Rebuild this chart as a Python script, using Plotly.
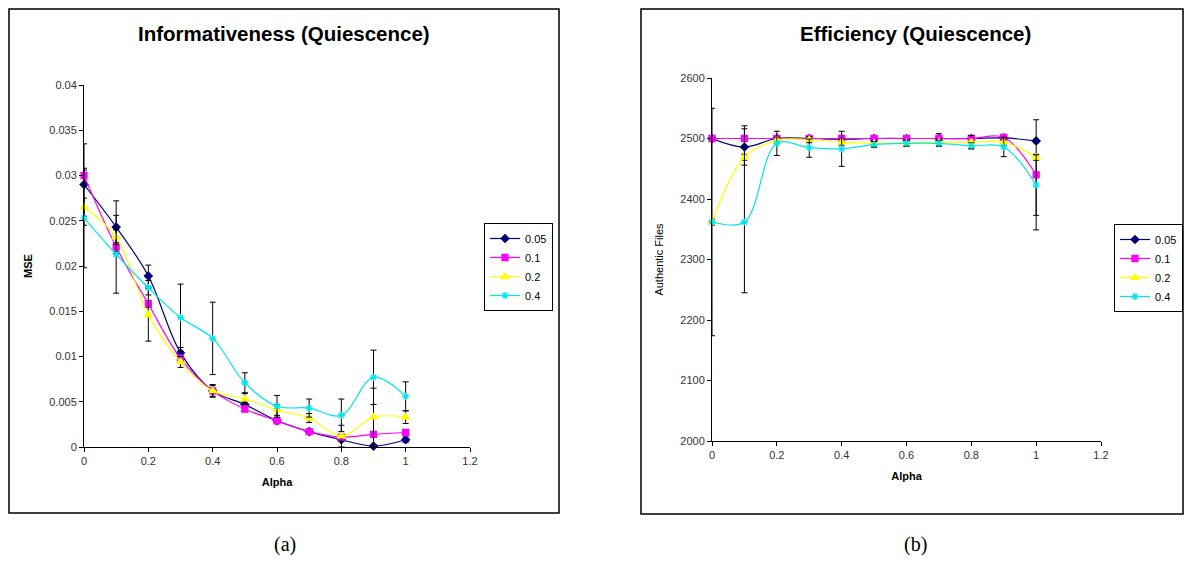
import plotly.graph_objects as go

# ---------------- data ----------------
alpha = [0.0, 0.1, 0.2, 0.3, 0.4, 0.5, 0.6, 0.7, 0.8, 0.9, 1.0]
series_names = ["0.05", "0.1", "0.2", "0.4"]

# (a) Informativeness (MSE)
mse_005 = [0.0290, 0.0243, 0.0189, 0.0104, 0.0062, 0.0047, 0.0029, 0.0017, 0.0008, 0.0001, 0.0008]
mse_01 = [0.0300, 0.0221, 0.0158, 0.0098, 0.0062, 0.0042, 0.0029, 0.0017, 0.0011, 0.0014, 0.0016]
mse_02 = [0.0265, 0.0232, 0.0146, 0.0094, 0.0062, 0.0053, 0.0041, 0.0032, 0.0012, 0.0033, 0.0033]
mse_04 = [0.0253, 0.0213, 0.0176, 0.0143, 0.0120, 0.0071, 0.0045, 0.0043, 0.0035, 0.0077, 0.0056]

mse_err_005 = [0.0045, 0.0029, 0.0012, 0.0006, 0.0007, 0.0004, 0.0003, 0.0002, 0.0002, 0.0001, 0.0003]
mse_err_01 = [0.0006, 0.0005, 0.0004, 0.0003, 0.0003, 0.0003, 0.0003, 0.0002, 0.0002, 0.0003, 0.0003]
mse_err_02 = [0.0010, 0.0008, 0.0029, 0.0006, 0.0006, 0.0006, 0.0006, 0.0005, 0.0012, 0.0032, 0.0007]
mse_err_04 = [0.0055, 0.0043, 0.0008, 0.0037, 0.0040, 0.0011, 0.0012, 0.0010, 0.0018, 0.0030, 0.0016]

# (b) Efficiency (Authentic Files)
files_005 = [2500, 2486, 2500, 2500, 2499, 2500, 2500, 2500, 2500, 2501, 2496]
files_01 = [2500, 2500, 2500, 2500, 2500, 2500, 2500, 2500, 2500, 2502, 2440]
files_02 = [2362, 2469, 2497, 2498, 2494, 2492, 2493, 2494, 2494, 2494, 2469]
files_04 = [2362, 2362, 2492, 2485, 2483, 2490, 2492, 2492, 2488, 2486, 2423]

files_err_005 = [3, 30, 3, 3, 3, 3, 3, 8, 3, 3, 3]
files_err_01 = [3, 3, 3, 3, 3, 3, 3, 3, 3, 3, 91]
files_err_02 = [5, 5, 5, 5, 5, 5, 5, 5, 11, 5, 5]
files_err_04_plus = [188, 159, 20, 14, 29, 5, 5, 5, 5, 16, 50]
files_err_04_minus = [188, 117, 20, 16, 29, 5, 5, 5, 5, 16, 50]

mse_ticks = [0, 0.005, 0.01, 0.015, 0.02, 0.025, 0.03, 0.035, 0.04]
mse_ticktext = ["0", "0.005", "0.01", "0.015", "0.02", "0.025", "0.03", "0.035", "0.04"]
files_ticks = [2000, 2100, 2200, 2300, 2400, 2500, 2600]
files_ticktext = ["2000", "2100", "2200", "2300", "2400", "2500", "2600"]
alpha_ticks = [0, 0.2, 0.4, 0.6, 0.8, 1.0, 1.2]
alpha_ticktext = ["0", "0.2", "0.4", "0.6", "0.8", "1", "1.2"]

# ---------------- styling ----------------
colors = ["#000080", "#FF00FF", "#FFFF00", "#00E5EE"]
symbols = ["diamond", "square", "triangle-up", "asterisk-open"]
msizes = [6, 6, 7, 6]
OFF = 8  # page body margin
W, H = 1192 - 2 * OFF, 563 - 2 * OFF
FONT = "Liberation Sans, Arial, sans-serif"


def px(v):
    return (v - OFF) / W


def py(v):
    return (H - (v - OFF)) / H


fig = go.Figure()

mse_series = [mse_005, mse_01, mse_02, mse_04]
mse_errs = [(mse_err_005, mse_err_005), (mse_err_01, mse_err_01),
            (mse_err_02, mse_err_02), (mse_err_04, mse_err_04)]
files_series = [files_005, files_01, files_02, files_04]
files_errs = [(files_err_005, files_err_005), (files_err_01, files_err_01),
              (files_err_02, files_err_02), (files_err_04_plus, files_err_04_minus)]

for i, name in enumerate(series_names):
    fig.add_trace(go.Scatter(
        x=alpha, y=mse_series[i], name=name, mode="lines+markers",
        line=dict(color=colors[i], width=1.2, shape="spline"),
        marker=dict(symbol=symbols[i], size=msizes[i], color=colors[i],
                    line=dict(color=colors[i], width=1.3)),
        error_y=dict(type="data", symmetric=False, array=mse_errs[i][0],
                     arrayminus=mse_errs[i][1], color="black", thickness=1, width=3),
        xaxis="x", yaxis="y", legend="legend", cliponaxis=False,
    ))

for i, name in enumerate(series_names):
    fig.add_trace(go.Scatter(
        x=alpha, y=files_series[i], name=name, mode="lines+markers",
        line=dict(color=colors[i], width=1.2, shape="spline"),
        marker=dict(symbol=symbols[i], size=msizes[i], color=colors[i],
                    line=dict(color=colors[i], width=1.3)),
        error_y=dict(type="data", symmetric=False, array=files_errs[i][0],
                     arrayminus=files_errs[i][1], color="black", thickness=1, width=3),
        xaxis="x2", yaxis="y2", legend="legend2", cliponaxis=False,
    ))

axis_common = dict(showgrid=False, zeroline=False, showline=True, linecolor="black",
                   linewidth=1, ticks="outside", ticklen=4, tickcolor="black",
                   automargin=False,
                   tickfont=dict(family=FONT, size=11, color="#333"))

fig.update_layout(
    width=W, height=H, autosize=False,
    margin=dict(l=0, r=0, t=0, b=0, pad=0),
    paper_bgcolor="white", plot_bgcolor="white",
    font=dict(family=FONT, color="black"),
    xaxis=dict(domain=[px(84), px(470)], range=[0, 1.2], tickvals=alpha_ticks,
               ticktext=alpha_ticktext, anchor="y",
               title=dict(text="<b>Alpha</b>", font=dict(size=11, family=FONT), standoff=12),
               **axis_common),
    yaxis=dict(domain=[py(447), py(85)], range=[0, 0.04], tickvals=mse_ticks,
               ticktext=mse_ticktext, anchor="x",
               title=dict(text="<b>MSE</b>", font=dict(size=11, family=FONT), standoff=14),
               **axis_common),
    xaxis2=dict(domain=[px(712), px(1101)], range=[0, 1.2], tickvals=alpha_ticks,
                ticktext=alpha_ticktext, anchor="y2",
                title=dict(text="<b>Alpha</b>", font=dict(size=11, family=FONT), standoff=12),
                **axis_common),
    yaxis2=dict(domain=[py(441), py(78)], range=[2000, 2600], tickvals=files_ticks,
                ticktext=files_ticktext, anchor="x2",
                title=dict(text="Authentic Files", font=dict(size=11, family=FONT), standoff=14),
                **axis_common),
    legend=dict(x=px(484), y=py(223), xanchor="left", yanchor="top",
                bordercolor="black", borderwidth=1, bgcolor="white",
                font=dict(size=11, family=FONT), itemwidth=30, tracegroupgap=0),
    legend2=dict(x=px(1114), y=py(224), xanchor="left", yanchor="top",
                 bordercolor="black", borderwidth=1, bgcolor="white",
                 font=dict(size=11, family=FONT), itemwidth=30, tracegroupgap=0),
    shapes=[
        dict(type="rect", xref="paper", yref="paper", x0=px(9), x1=px(559),
             y0=py(513), y1=py(9), line=dict(color="black", width=1.5)),
        dict(type="rect", xref="paper", yref="paper", x0=px(641), x1=px(1183),
             y0=py(514), y1=py(9), line=dict(color="black", width=1.5)),
    ],
    annotations=[
        dict(text="<b>Informativeness (Quiescence)</b>", xref="paper", yref="paper",
             x=px(283.5), y=py(34), xanchor="center", yanchor="middle", showarrow=False,
             font=dict(size=20.5, family=FONT, color="black")),
        dict(text="<b>Efficiency (Quiescence)</b>", xref="paper", yref="paper",
             x=px(915.5), y=py(34), xanchor="center", yanchor="middle", showarrow=False,
             font=dict(size=20.5, family=FONT, color="black")),
        dict(text="(a)", xref="paper", yref="paper", x=px(285), y=py(544),
             xanchor="center", yanchor="middle", showarrow=False,
             font=dict(size=20, family="Liberation Serif, Times New Roman, serif", color="black")),
        dict(text="(b)", xref="paper", yref="paper", x=px(915), y=py(544),
             xanchor="center", yanchor="middle", showarrow=False,
             font=dict(size=20, family="Liberation Serif, Times New Roman, serif", color="black")),
    ],
)

fig.write_html("out.html")
